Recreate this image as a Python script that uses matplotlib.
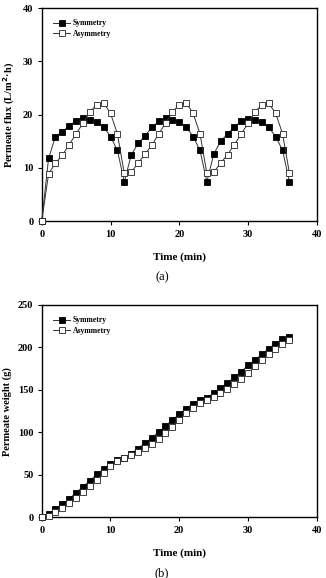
import matplotlib
matplotlib.use("Agg")
import matplotlib.pyplot as plt

plt.rcParams['font.family'] = ['Liberation Serif', 'DejaVu Serif']

time_min = list(range(0, 37))

flux_sym = [0, 11.8, 15.9, 16.8, 17.9, 18.9, 19.4, 19.0, 18.6, 17.7, 15.9, 13.3, 7.4,
            12.4, 14.6, 16.0, 17.6, 18.75, 19.3, 19.0, 18.6, 17.7, 15.9, 13.3, 7.4,
            12.6, 15.0, 16.4, 17.7, 18.75, 19.25, 19.0, 18.6, 17.6, 15.9, 13.3, 7.4]
flux_asym = [0, 8.9, 10.9, 12.4, 14.4, 16.4, 18.4, 20.5, 21.9, 22.2, 20.25, 16.4, 9.0,
             9.2, 10.9, 12.6, 14.25, 16.4, 18.4, 20.5, 21.9, 22.2, 20.25, 16.4, 9.0,
             9.25, 10.9, 12.5, 14.4, 16.4, 18.4, 20.5, 21.9, 22.1, 20.25, 16.4, 9.0]

weight_sym = [0, 4.3, 9.8, 15.6, 21.9, 29, 36, 43, 50.5, 57, 62.6, 67.3, 70, 75, 81,
              87.2, 93.5, 100.2, 107.6, 114.6, 121.3, 128, 133.8, 138.5, 140.8, 146,
              151.8, 158, 164.7, 171.4, 178.8, 185, 192, 198.4, 204.6, 209.7, 212.4]
weight_asym = [0, 2, 6.6, 11.3, 16.8, 22.7, 29.7, 36.8, 44.2, 52, 59.9, 66.5, 69.6, 73.2,
               77, 81.4, 86.9, 92.3, 99.4, 106.4, 114.6, 122.5, 129, 135, 138.5, 141.6,
               146, 151, 156.5, 162.8, 169.8, 177.6, 184.7, 192, 198.7, 204.6, 208.5]

series_labels = ["Symmetry", "Asymmetry"]
x_ticks = [0, 10, 20, 30, 40]
flux_ticks = [0, 10, 20, 30, 40]
weight_ticks = [0, 50, 100, 150, 200, 250]

W, H = 326, 578
fig = plt.figure(figsize=(W / 100, H / 100), dpi=100)

def rect(l, t, r, b):
    return [l / W, 1 - b / H, (r - l) / W, (b - t) / H]

ax1 = fig.add_axes(rect(41.7, 8, 317, 221.3))
ax2 = fig.add_axes(rect(41.7, 305, 316.7, 517.3))

def style(ax, yticks, ylim, ylabel):
    ax.set_xlim(0, 40)
    ax.set_ylim(*ylim)
    ax.set_xticks(x_ticks)
    ax.set_yticks(yticks)
    ax.tick_params(direction='out', length=3, width=0.8, labelsize=7.5, pad=3,
                   top=False, right=False)
    for lab in ax.get_xticklabels() + ax.get_yticklabels():
        lab.set_fontweight('bold')
    for s in ax.spines.values():
        s.set_linewidth(1.0)
    ax.set_xlabel("Time (min)", fontsize=8, fontweight='bold', labelpad=10)
    ax.set_ylabel(ylabel, fontsize=7.5, fontweight='bold', labelpad=4)
    ax.legend(loc='upper left', frameon=False, handlelength=2.2,
              handletextpad=0.4, borderaxespad=1.1, labelspacing=0.35,
              prop={'weight': 'bold', 'size': 5.5})

def draw(ax, ys, ya):
    ax.plot(time_min, ys, color='#333333', lw=0.7, marker='s', ms=4.0,
            mfc='black', mec='black', mew=0.6, label=series_labels[0], clip_on=False, zorder=3)
    ax.plot(time_min, ya, color='#333333', lw=0.7, marker='s', ms=4.0,
            mfc='white', mec='#222222', mew=0.6, label=series_labels[1], clip_on=False, zorder=3)

draw(ax1, flux_sym, flux_asym)
style(ax1, flux_ticks, (0, 40), "Permeate flux (L/m$^{\\mathbf{2}}$·h)")
draw(ax2, weight_sym, weight_asym)
style(ax2, weight_ticks, (0, 250), "Permeate weight (g)")

fig.text(162 / W, 1 - 277 / H, "(a)", ha='center', va='center', fontsize=9)
fig.text(162 / W, 1 - 573 / H, "(b)", ha='center', va='center', fontsize=9)

fig.savefig("out.png", dpi=100)
